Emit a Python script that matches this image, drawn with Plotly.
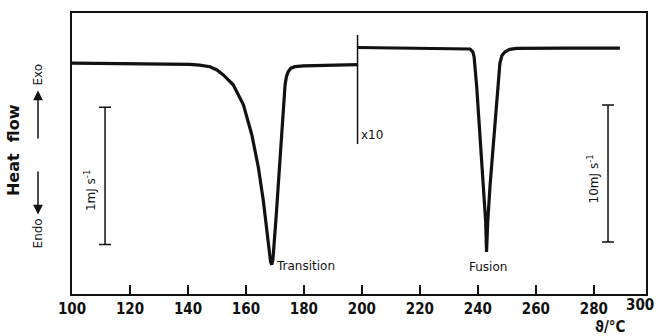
import plotly.graph_objects as go

# --- data (temperature in °C, heat flow in display units; 1 unit = 1 mJ/s on left, 10 mJ/s on right) ---
trans_T = [100.0, 120.0, 135.0, 140.7, 144.0, 147.6, 150.0, 152.2, 155.6, 159.1, 162.0, 164.3,
           166.0, 167.4, 168.0, 168.5, 168.9, 169.3, 170.4, 171.5, 172.7, 173.5, 174.0, 174.6,
           175.5, 176.9, 179.8, 190.0, 198.5]
trans_flow = [1.685, 1.683, 1.680, 1.676, 1.670, 1.659, 1.635, 1.599, 1.527, 1.382, 1.164, 0.922,
              0.681, 0.440, 0.310, 0.235, 0.215, 0.250, 0.560, 0.922, 1.285, 1.527, 1.590, 1.623,
              1.648, 1.659, 1.665, 1.670, 1.674]

fus_T = [198.5, 220.0, 230.4, 237.3, 238.3, 238.7, 239.6, 240.7, 241.9, 242.7, 243.0, 243.4,
         244.2, 245.6, 247.1, 247.6, 248.3, 249.4, 251.0, 253.4, 270.0, 289.0]
fus_flow = [1.799, 1.796, 1.794, 1.788, 1.765, 1.732, 1.514, 1.152, 0.790, 0.524, 0.307, 0.524,
            0.790, 1.152, 1.514, 1.683, 1.740, 1.768, 1.785, 1.792, 1.795, 1.795]

range_change_T = [198.5, 198.5]
range_change_flow = [1.891, 1.094]

scale_T = [111.4, 284.9]
scale_center = [0.862, 0.880]
scale_half = [0.5, 0.5]
scale_labels = ["1mJ s<sup>-1</sup>", "10mJ s<sup>-1</sup>"]
scale_label_T = [106.0, 279.6]
scale_label_flow = [0.754, 0.841]

tick_vals = [100, 120, 140, 160, 180, 200, 220, 240, 260, 280]
tick_text = [str(v) for v in tick_vals]

peak_labels = ["Transition", "Fusion"]
peak_label_T = [169.8, 243.4]
peak_label_flow = [0.203, 0.196]

FONT = "DejaVu Sans Condensed, Liberation Sans Narrow, DejaVu Sans, sans-serif"
TFONT = "DejaVu Sans, sans-serif"
BLACK = "#111111"

W, H = 660, 336
L, R, T, B = 72, 14, 11, 42
PW, PH = W - L - R, H - T - B


def px(xp):
    return (xp - L) / PW


def py(yp):
    return (H - B - yp) / PH


fig = go.Figure()

fig.add_trace(go.Scatter(x=trans_T, y=trans_flow, mode="lines",
                         line=dict(color=BLACK, width=3.2), hoverinfo="skip"))
fig.add_trace(go.Scatter(x=fus_T, y=fus_flow, mode="lines",
                         line=dict(color=BLACK, width=3.2), hoverinfo="skip"))
fig.add_trace(go.Scatter(x=range_change_T, y=range_change_flow, mode="lines",
                         line=dict(color=BLACK, width=1.5), hoverinfo="skip"))
fig.add_trace(go.Scatter(x=scale_T, y=scale_center, mode="markers",
                         marker=dict(size=1, color="rgba(0,0,0,0)"),
                         error_y=dict(type="data", array=scale_half, visible=True,
                                      color=BLACK, thickness=1.5, width=6),
                         hoverinfo="skip"))

for txt, xv, yv in zip(scale_labels, scale_label_T, scale_label_flow):
    fig.add_annotation(x=xv, y=yv, xref="x", yref="y", text=txt, textangle=-90,
                       showarrow=False, xanchor="center", yanchor="middle",
                       font=dict(family=TFONT, size=12, color=BLACK))

for txt, xv, yv in zip(peak_labels, peak_label_T, peak_label_flow):
    fig.add_annotation(x=xv, y=yv, xref="x", yref="y", text=txt, showarrow=False,
                       xanchor="left" if txt == "Transition" else "center",
                       yanchor="middle",
                       font=dict(family=TFONT, size=12, color=BLACK))

fig.add_annotation(x=199.0, y=1.16, xref="x", yref="y", text="x10", showarrow=False,
                   xanchor="left", yanchor="middle",
                   font=dict(family=TFONT, size=12, color=BLACK))


def paper_text(xp, yp, text, size, family=TFONT, angle=0, weight="normal"):
    fig.add_annotation(x=px(xp), y=py(yp), xref="paper", yref="paper", text=text,
                       textangle=angle, showarrow=False, xanchor="center",
                       yanchor="middle",
                       font=dict(family=family, size=size, color=BLACK, weight=weight))


def paper_arrow(x_pix, head_y, tail_y):
    fig.add_annotation(x=px(x_pix), y=py(head_y), xref="paper", yref="paper", text=" ",
                       showarrow=True, ax=0, ay=tail_y - head_y, arrowhead=2,
                       arrowsize=1.3, arrowwidth=1.5, arrowcolor=BLACK,
                       standoff=0, startstandoff=0, font=dict(size=1))


paper_text(13, 149, "<b>Heat\u00a0\u00a0flow</b>", 16, angle=-90)
paper_text(38, 233, "Endo", 12, angle=-90)
paper_text(38, 73, "Exo", 12, angle=-90)
paper_arrow(38, 214, 169)
paper_arrow(38, 89, 139)
paper_text(640, 305, "300", 15, family=FONT, weight="bold")
paper_text(610, 327, "\u03d1/\u00b0C", 15, family=FONT, weight="bold")

fig.update_layout(
    width=W, height=H,
    margin=dict(l=L, r=R, t=T, b=B),
    paper_bgcolor="white", plot_bgcolor="white",
    showlegend=False,
    xaxis=dict(range=[100, 298], tickvals=tick_vals, ticktext=tick_text,
               ticks="inside", ticklen=9, tickwidth=1.5, tickcolor=BLACK,
               showline=True, linecolor=BLACK, linewidth=2, mirror=True,
               showgrid=False, zeroline=False,
               tickfont=dict(family=FONT, size=15, color=BLACK, weight="bold")),
    yaxis=dict(range=[0, PH / 138.0], showticklabels=False, ticks="",
               showline=True, linecolor=BLACK, linewidth=2, mirror=True,
               showgrid=False, zeroline=False),
)

fig.write_html("out.html", config={"displayModeBar": False},
               post_script="document.body.style.margin='0';")
